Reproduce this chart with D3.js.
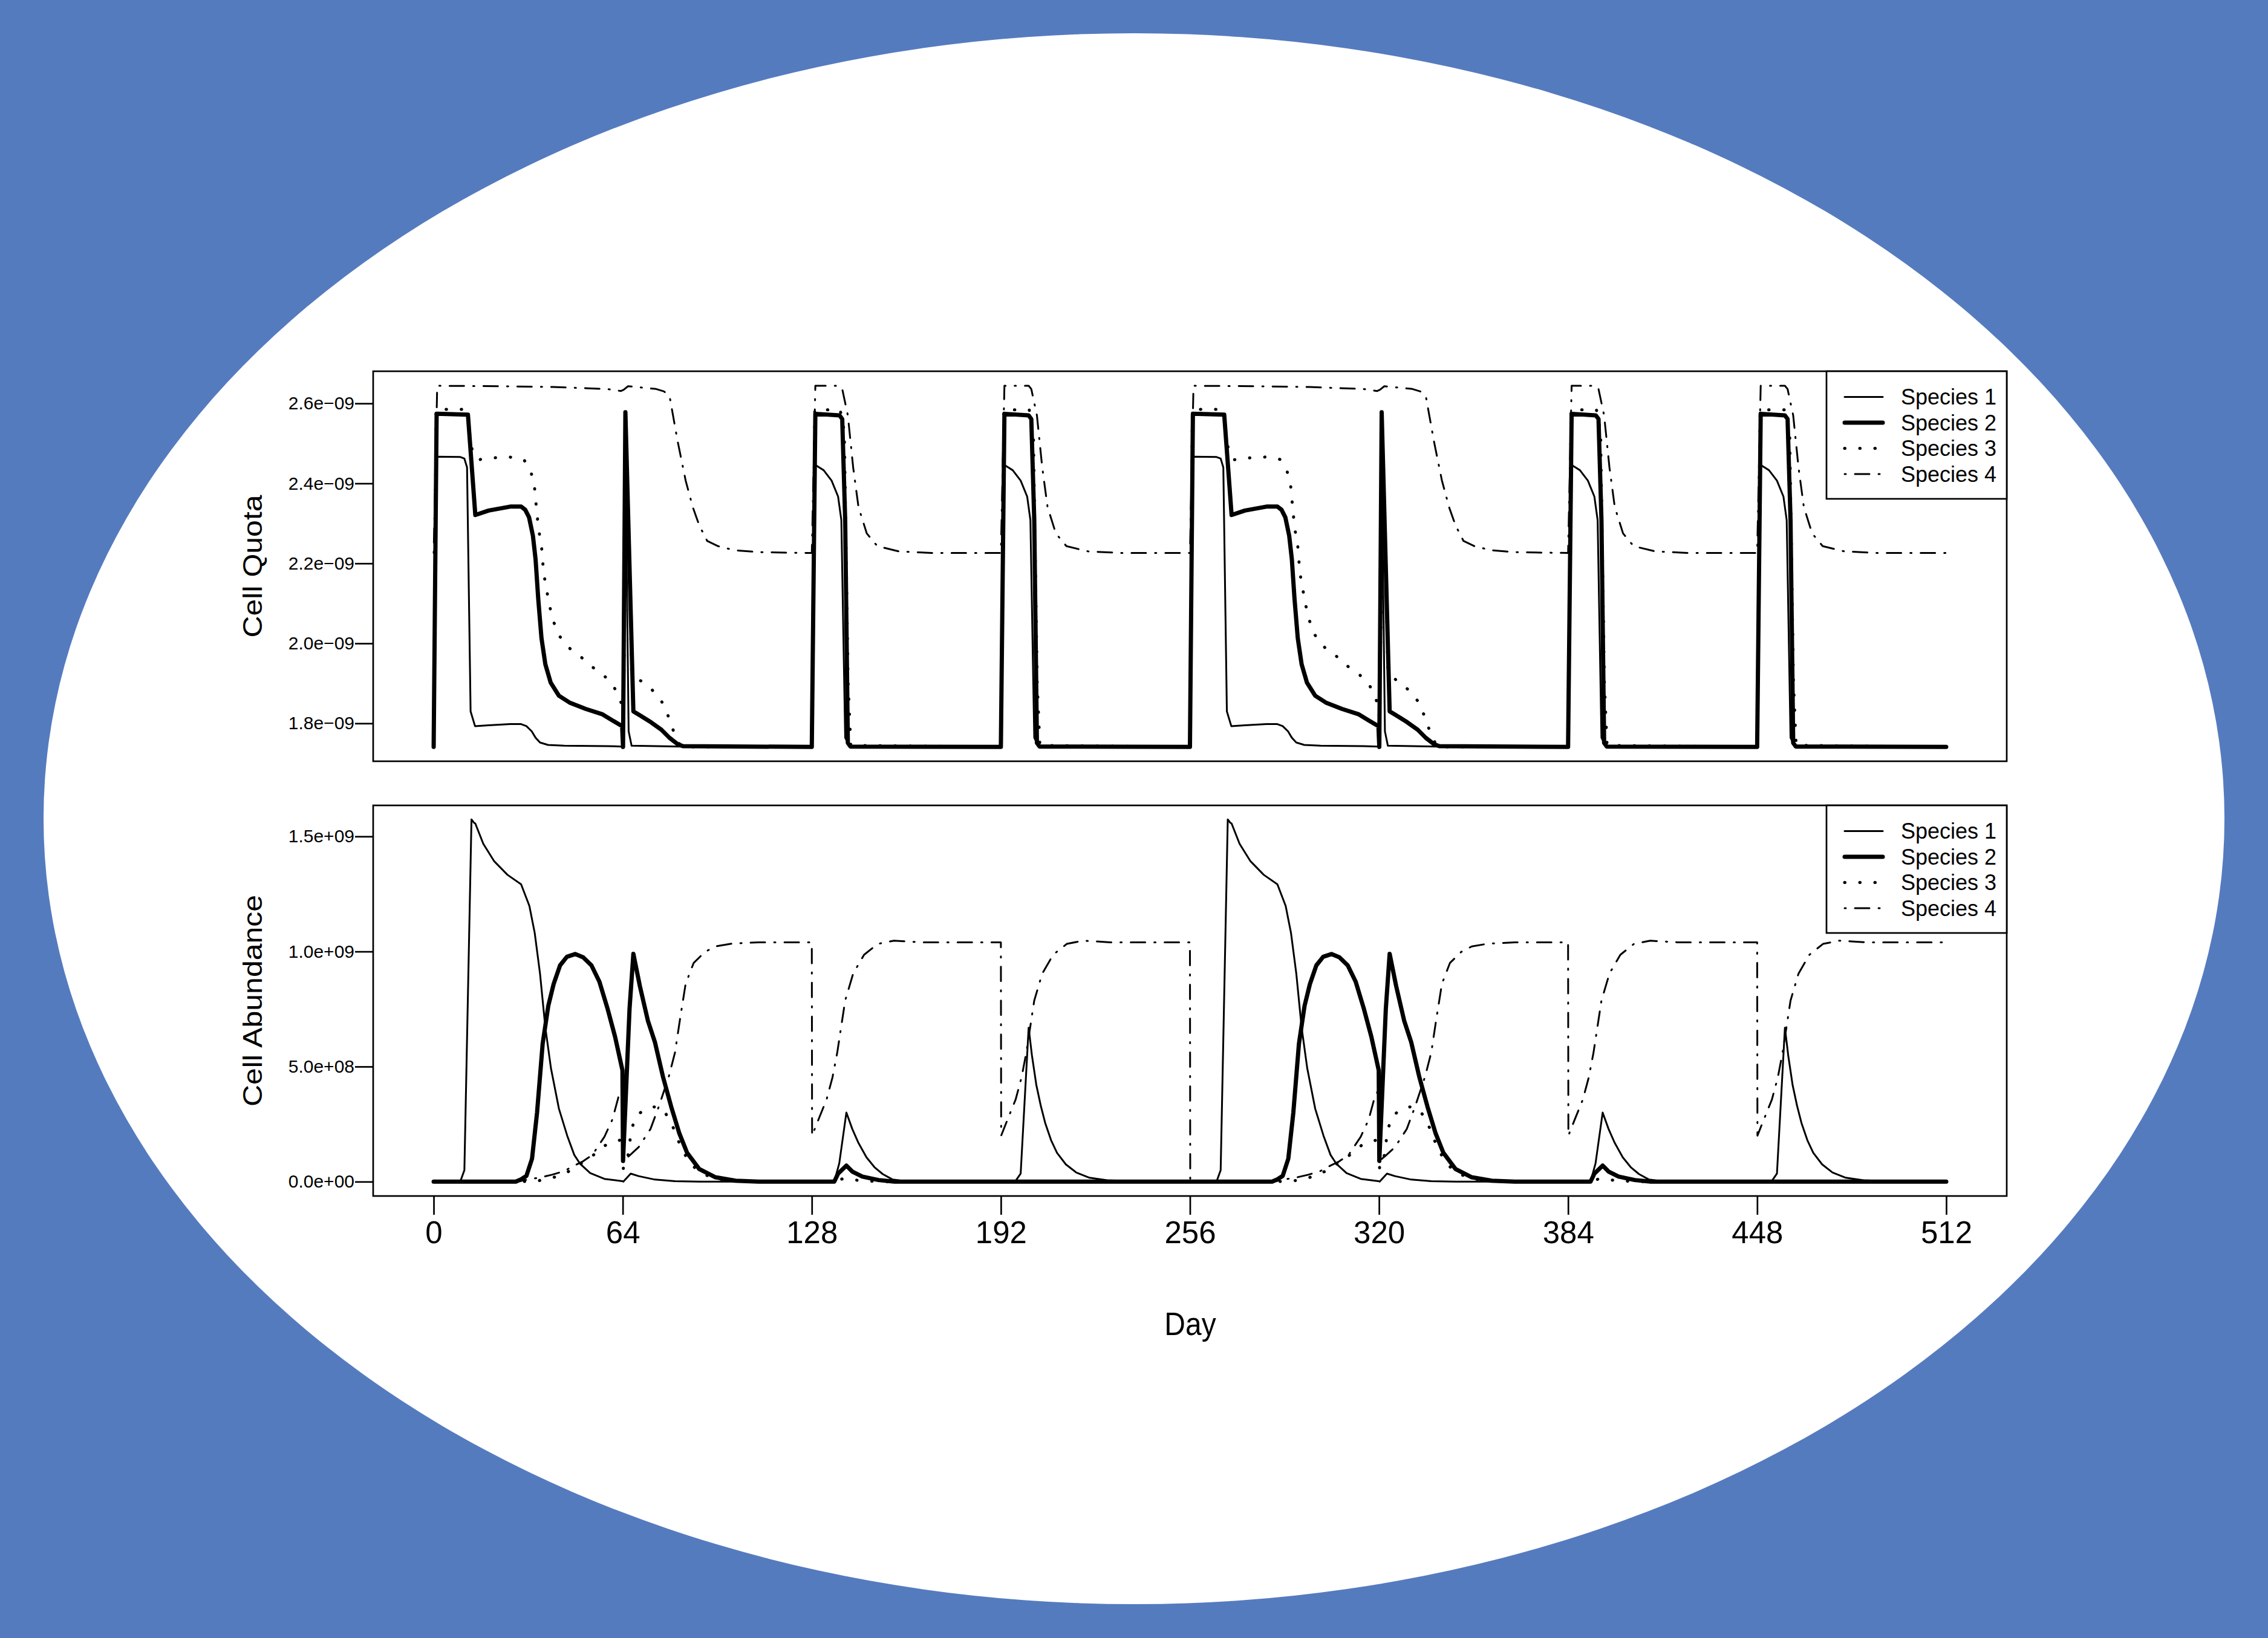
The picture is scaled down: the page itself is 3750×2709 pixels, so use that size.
<!DOCTYPE html>
<html><head><meta charset="utf-8">
<script src="https://cdn.jsdelivr.net/npm/d3@7"></script>
<style>html,body{margin:0;padding:0;background:#557bbf;}svg{display:block;}</style>
</head><body>
<svg id="chart" width="3750" height="2709"></svg>
<script>
// ---------- DATA (Cell Quota in units of 1e-9, Cell Abundance in units of 1e9) ----------
const speciesNames = ["Species 1", "Species 2", "Species 3", "Species 4"];
const xTicks = [0, 64, 128, 192, 256, 320, 384, 448, 512];
const quotaTicks = [1.8, 2.0, 2.2, 2.4, 2.6];
const quotaTickLabels = ["1.8e\u221209", "2.0e\u221209", "2.2e\u221209", "2.4e\u221209", "2.6e\u221209"];
const abundTicks = [0, 0.5, 1.0, 1.5];
const abundTickLabels = ["0.0e+00", "5.0e+08", "1.0e+09", "1.5e+09"];

const quotaSp1 = [[0,1.741],[0.6,2.467],[9,2.466],[10.4,2.462],[11.3,2.44],[12.5,1.83],[14,1.793],[18.6,1.795],[25.9,1.798],[29.6,1.798],[31.4,1.793],[33.2,1.78],[34.5,1.764],[36,1.752],[38.7,1.746],[44.2,1.744],[58.8,1.743],[63.8,1.742],[64.7,2.575],[66,1.78],[67,1.744],[84,1.742],
[128,1.741],[129.2,2.446],[132,2.433],[134.7,2.407],[136.9,2.367],[138,2.308],[139.3,1.764],[140.7,1.743],
[192,1.741],[193.2,2.446],[196,2.433],[198.7,2.407],[200.9,2.367],[202,2.308],[203.3,1.764],[204.7,1.743],
[256,1.741],[256.6,2.467],[265,2.466],[266.4,2.462],[267.3,2.44],[268.5,1.83],[270,1.793],[274.6,1.795],[281.9,1.798],[285.6,1.798],[287.4,1.793],[289.2,1.78],[290.5,1.764],[292,1.752],[294.7,1.746],[300.2,1.744],[314.8,1.743],[319.8,1.742],[320.7,2.575],[322,1.78],[323,1.744],[340,1.742],
[384,1.741],[385.2,2.446],[388,2.433],[390.7,2.407],[392.9,2.367],[394,2.308],[395.3,1.764],[396.7,1.743],
[448,1.741],[449.2,2.446],[452,2.433],[454.7,2.407],[456.9,2.367],[458,2.308],[459.3,1.764],[460.7,1.743],
[512,1.741]];

const quotaSp2 = [[0,1.741],[1,2.574],[11.6,2.572],[14.1,2.321],[18.6,2.332],[25.9,2.342],[29.6,2.342],[31,2.334],[32.3,2.315],[33.6,2.269],[34.5,2.21],[35.4,2.111],[36.5,2.013],[37.8,1.948],[39.6,1.902],[42.4,1.869],[46,1.852],[51.5,1.836],[57,1.823],[60.6,1.807],[63.8,1.793],[64.1,1.741],[64.9,2.578],[67.6,1.83],[69.8,1.82],[73.5,1.803],[77.1,1.784],[79.8,1.764],[82.6,1.748],[84.4,1.743],
[128,1.741],[129.2,2.574],[137.4,2.57],[138.3,2.561],[139.3,2.308],[140.2,1.751],[141.1,1.742],
[192,1.741],[193.2,2.574],[201.4,2.57],[202.3,2.561],[203.3,2.308],[204.2,1.751],[205.1,1.742],
[256,1.741],[257,2.574],[267.6,2.572],[270.1,2.321],[274.6,2.332],[281.9,2.342],[285.6,2.342],[287,2.334],[288.3,2.315],[289.6,2.269],[290.5,2.21],[291.4,2.111],[292.5,2.013],[293.8,1.948],[295.6,1.902],[298.4,1.869],[302,1.852],[307.5,1.836],[313,1.823],[316.6,1.807],[319.8,1.793],[320.1,1.741],[320.9,2.578],[323.6,1.83],[325.8,1.82],[329.5,1.803],[333.1,1.784],[335.8,1.764],[338.6,1.748],[340.4,1.743],
[384,1.741],[385.2,2.574],[393.4,2.57],[394.3,2.561],[395.3,2.308],[396.2,1.751],[397.1,1.742],
[448,1.741],[449.2,2.574],[457.4,2.57],[458.3,2.561],[459.3,2.308],[460.2,1.751],[461.1,1.742],
[512,1.741]];

const quotaSp3 = [[0,1.741],[0.8,2.585],[11.3,2.585],[12.2,2.525],[13,2.485],[14.9,2.459],[20.4,2.464],[25.6,2.466],[30.5,2.46],[32.9,2.43],[34.1,2.393],[35,2.321],[35.6,2.282],[36.5,2.243],[37.2,2.177],[38.3,2.131],[39.3,2.092],[40.5,2.056],[42.4,2.02],[45.6,1.99],[49.7,1.967],[53.7,1.941],[57.5,1.921],[61,1.892],[62.8,1.862],[63.9,1.845],[64.2,1.76],[65.3,2.5],[67,1.93],[69.8,1.908],[73.8,1.885],[77.1,1.856],[79.3,1.82],[81.7,1.77],[83.5,1.744],[86,1.741],
[128,1.741],[129,2.584],[137.6,2.584],[139,2.53],[140.3,1.9],[141.2,1.745],
[192,1.741],[193,2.584],[201.6,2.584],[203,2.53],[204.3,1.9],[205.2,1.745],
[256,1.741],[256.8,2.585],[267.3,2.585],[268.2,2.525],[269,2.485],[270.9,2.459],[276.4,2.464],[281.6,2.466],[286.5,2.46],[288.9,2.43],[290.1,2.393],[291,2.321],[291.6,2.282],[292.5,2.243],[293.2,2.177],[294.3,2.131],[295.3,2.092],[296.5,2.056],[298.4,2.02],[301.6,1.99],[305.7,1.967],[309.7,1.941],[313.5,1.921],[317,1.892],[318.8,1.862],[319.9,1.845],[320.2,1.76],[321.3,2.5],[323,1.93],[325.8,1.908],[329.8,1.885],[333.1,1.856],[335.3,1.82],[337.7,1.77],[339.5,1.744],[342,1.741],
[384,1.741],[385,2.584],[393.6,2.584],[395,2.53],[396.3,1.9],[397.2,1.745],
[448,1.741],[449,2.584],[457.6,2.584],[459,2.53],[460.3,1.9],[461.2,1.745],
[512,1.741]];

const quotaSp4 = [[0,2.226],[1.2,2.644],[22.2,2.643],[40.5,2.641],[58.8,2.636],[63.4,2.631],[64.3,2.634],[65.8,2.643],[75.3,2.636],[78,2.63],[79.9,2.616],[82.6,2.505],[85.3,2.407],[87.7,2.341],[89.9,2.295],[92.6,2.256],[96.3,2.243],[101.8,2.233],[110,2.228],[128,2.226],
[129.2,2.644],[137.4,2.644],[138.3,2.636],[140.2,2.57],[142,2.44],[143.8,2.341],[146.6,2.275],[150.2,2.243],[157.5,2.23],[168.5,2.226],[192,2.226],
[193.2,2.644],[201.4,2.644],[202.3,2.636],[204.2,2.57],[206,2.44],[207.8,2.341],[210.6,2.275],[214.2,2.243],[221.5,2.23],[232.5,2.226],[256,2.226],
[257.2,2.644],[278.2,2.643],[296.5,2.641],[314.8,2.636],[319.4,2.631],[320.3,2.634],[321.8,2.643],[331.3,2.636],[334,2.63],[335.9,2.616],[338.6,2.505],[341.3,2.407],[343.7,2.341],[345.9,2.295],[348.6,2.256],[352.3,2.243],[357.8,2.233],[366,2.228],[384,2.226],
[385.2,2.644],[393.4,2.644],[394.3,2.636],[396.2,2.57],[398,2.44],[399.8,2.341],[402.6,2.275],[406.2,2.243],[413.5,2.23],[424.5,2.226],[448,2.226],
[449.2,2.644],[457.4,2.644],[458.3,2.636],[460.2,2.57],[462,2.44],[463.8,2.341],[466.6,2.275],[470.2,2.243],[477.5,2.23],[488.5,2.226],[512,2.226]];

const abundSp1 = [[0,0],[9,0],[10.4,0.05],[12.8,1.574],[13.6,1.56],[14.1,1.556],[16.8,1.468],[20.5,1.392],[25,1.333],[29.6,1.292],[32.4,1.198],[34.2,1.081],[36,0.904],[37.8,0.67],[39.7,0.493],[42.4,0.317],[45.2,0.2],[47.6,0.116],[49.6,0.077],[53,0.037],[57.8,0.012],[63.9,0.002],[64.2,0],[66.7,0.035],[69.4,0.024],[74.9,0.009],[81.7,0.002],[90,0],
[135.6,0],[137.3,0.08],[139.7,0.3],[141.7,0.229],[143.8,0.168],[146.5,0.106],[149.2,0.063],[152,0.033],[155.4,0.009],[160.8,0],
[196.8,0],[198.7,0.035],[201.4,0.669],[202.5,0.55],[204,0.42],[205.5,0.33],[207,0.255],[209,0.18],[211,0.125],[214,0.075],[217.5,0.04],[222,0.017],[228,0.006],[240,0],
[265,0],[266.4,0.05],[268.8,1.574],[269.6,1.56],[270.1,1.556],[272.8,1.468],[276.5,1.392],[281,1.333],[285.6,1.292],[288.4,1.198],[290.2,1.081],[292,0.904],[293.8,0.67],[295.7,0.493],[298.4,0.317],[301.2,0.2],[303.6,0.116],[305.6,0.077],[309,0.037],[313.8,0.012],[319.9,0.002],[320.2,0],[322.7,0.035],[325.4,0.024],[330.9,0.009],[337.7,0.002],[346,0],
[391.6,0],[393.3,0.08],[395.7,0.3],[397.7,0.229],[399.8,0.168],[402.5,0.106],[405.2,0.063],[408,0.033],[411.4,0.009],[416.8,0],
[452.8,0],[454.7,0.035],[457.4,0.669],[458.5,0.55],[460,0.42],[461.5,0.33],[463,0.255],[465,0.18],[467,0.125],[470,0.075],[473.5,0.04],[478,0.017],[484,0.006],[496,0],[512,0]];

const abundSp2 = [[0,0],[27.8,0],[29.6,0.01],[31.4,0.025],[33.3,0.1],[35,0.3],[36.9,0.6],[38.8,0.764],[40.6,0.858],[42.8,0.94],[45.1,0.977],[47.9,0.989],[50.6,0.975],[53.4,0.94],[56.1,0.869],[58.9,0.75],[61.4,0.63],[63.9,0.484],[64.1,0.09],[66.3,0.75],[67.6,0.99],[69.8,0.85],[72.5,0.7],[74.9,0.606],[77.6,0.457],[80.4,0.326],[83.1,0.212],[85.8,0.125],[89.9,0.055],[95.4,0.019],[102.2,0.004],[110,0],
[135.6,0],[136.9,0.035],[139.7,0.07],[141.7,0.044],[145.1,0.022],[150.6,0.007],[156,0],
[283.8,0],[285.6,0.01],[287.4,0.025],[289.3,0.1],[291,0.3],[292.9,0.6],[294.8,0.764],[296.6,0.858],[298.8,0.94],[301.1,0.977],[303.9,0.989],[306.6,0.975],[309.4,0.94],[312.1,0.869],[314.9,0.75],[317.4,0.63],[319.9,0.484],[320.1,0.09],[322.3,0.75],[323.6,0.99],[325.8,0.85],[328.5,0.7],[330.9,0.606],[333.6,0.457],[336.4,0.326],[339.1,0.212],[341.8,0.125],[345.9,0.055],[351.4,0.019],[358.2,0.004],[366,0],
[391.6,0],[392.9,0.035],[395.7,0.07],[397.7,0.044],[401.1,0.022],[406.6,0.007],[412,0],
[512,0]];

const abundSp3 = [[0,0],[28,0],[30.8,0.001],[35.8,0.005],[41,0.02],[45.8,0.045],[50,0.08],[54,0.115],[58,0.157],[62.9,0.18],[63.8,0.178],[64.2,0.057],[65.3,0.074],[66.1,0.14],[66.7,0.205],[67.9,0.269],[70,0.3],[71.6,0.314],[74,0.325],[76.2,0.324],[78,0.305],[79.5,0.278],[81.7,0.218],[83.4,0.158],[85.9,0.098],[88,0.065],[91,0.035],[95,0.014],[100,0.004],[106,0],
[136,0],[138.5,0.013],[141,0.01],[144.8,0.004],[150,0.001],[155,0],
[284,0],[286.8,0.001],[291.8,0.005],[297,0.02],[301.8,0.045],[306,0.08],[310,0.115],[314,0.157],[318.9,0.18],[319.8,0.178],[320.2,0.057],[321.3,0.074],[322.1,0.14],[322.7,0.205],[323.9,0.269],[326,0.3],[327.6,0.314],[330,0.325],[332.2,0.324],[334,0.305],[335.5,0.278],[337.7,0.218],[339.4,0.158],[341.9,0.098],[344,0.065],[347,0.035],[351,0.014],[356,0.004],[362,0],
[392,0],[394.5,0.013],[397,0.01],[400.8,0.004],[406,0.001],[411,0],[512,0]];

const abundSp4 = [[0,0],[27,0],[29.5,0.003],[33,0.012],[36,0.018],[40,0.03],[44,0.045],[47.6,0.07],[50.5,0.088],[53.7,0.116],[57.8,0.195],[60.5,0.27],[62.6,0.37],[63.9,0.4],[64.1,0.09],[66,0.11],[69.4,0.15],[73.4,0.229],[76.2,0.326],[79.6,0.457],[81.7,0.562],[83.4,0.707],[85.3,0.86],[88,0.95],[91.8,0.998],[95.4,1.022],[100.9,1.034],[110,1.04],[128,1.04],
[128.1,0.2],[130.1,0.265],[133,0.357],[135,0.453],[136.6,0.56],[139.3,0.787],[142,0.904],[145.7,0.986],[150.3,1.033],[155.8,1.047],[165,1.04],[192,1.04],
[192.1,0.2],[194.1,0.265],[197,0.357],[199,0.453],[200.6,0.56],[203.3,0.787],[206,0.904],[209.7,0.986],[214.3,1.033],[219.8,1.047],[229,1.04],[256,1.04],
[256.1,0],[283,0],[285.5,0.003],[289,0.012],[292,0.018],[296,0.03],[300,0.045],[303.6,0.07],[306.5,0.088],[309.7,0.116],[313.8,0.195],[316.5,0.27],[318.6,0.37],[319.9,0.4],[320.1,0.09],[322,0.11],[325.4,0.15],[329.4,0.229],[332.2,0.326],[335.6,0.457],[337.7,0.562],[339.4,0.707],[341.3,0.86],[344,0.95],[347.8,0.998],[351.4,1.022],[356.9,1.034],[366,1.04],[384,1.04],
[384.1,0.2],[386.1,0.265],[389,0.357],[391,0.453],[392.6,0.56],[395.3,0.787],[398,0.904],[401.7,0.986],[406.3,1.033],[411.8,1.047],[421,1.04],[448,1.04],
[448.1,0.2],[450.1,0.265],[453,0.357],[455,0.453],[456.6,0.56],[459.3,0.787],[462,0.904],[465.7,0.986],[470.3,1.033],[475.8,1.047],[485,1.04],[512,1.04]];

// ---------- LAYOUT ----------
const W = 3750, H = 2709;
const FONT = "'Liberation Sans', Arial, Helvetica, sans-serif";
const left = 617, right = 3318;
const topPanel = {y0: 614, y1: 1259};
const botPanel = {y0: 1332, y1: 1978};

const styles = [
  {w: 3, dash: null},
  {w: 7, dash: null},
  {w: 5, dash: "0.5,24.5"},
  {w: 3, dash: "2,15,24,15"}
];

const svg = d3.select("#chart");
svg.append("rect").attr("width", W).attr("height", H).attr("fill", "#557bbf");
svg.append("ellipse").attr("cx", 1875).attr("cy", 1354).attr("rx", 1803).attr("ry", 1299).attr("fill", "#ffffff");

const x = d3.scaleLinear().domain([-20.48, 532.48]).range([left, right]);
const yQ = d3.scaleLinear().domain([1.7052, 2.6804]).range([topPanel.y1, topPanel.y0]);
const yA = d3.scaleLinear().domain([-0.0623, 1.6348]).range([botPanel.y1, botPanel.y0]);

function drawPanel(panel, y, series, ticks, labels, title) {
  const g = svg.append("g");
  const line = d3.line().x(d => x(d[0])).y(d => y(d[1]));
  series.forEach((s, i) => {
    const p = g.append("path").datum(s).attr("d", line)
      .attr("fill", "none").attr("stroke", "#000")
      .attr("stroke-width", styles[i].w)
      .attr("stroke-linejoin", "round").attr("stroke-linecap", "round");
    if (styles[i].dash) p.attr("stroke-dasharray", styles[i].dash);
  });
  // box
  g.append("rect").attr("x", left).attr("y", panel.y0)
    .attr("width", right - left).attr("height", panel.y1 - panel.y0)
    .attr("fill", "none").attr("stroke", "#000").attr("stroke-width", 2.7);
  // y axis
  const ax = d3.axisLeft(y).tickValues(ticks).tickFormat((d, i) => labels[i]).tickSize(30).tickPadding(1);
  const ag = g.append("g").attr("transform", `translate(${left},0)`).call(ax);
  ag.select(".domain").remove();
  ag.selectAll(".tick line").attr("stroke", "#000").attr("stroke-width", 2.7);
  ag.selectAll(".tick text").attr("font-family", FONT).attr("font-size", 30).attr("fill", "#000");
  // y title
  g.append("text").attr("transform", `translate(433,${(panel.y0 + panel.y1) / 2}) rotate(-90) scale(1,0.9)`)
    .attr("text-anchor", "middle").attr("font-family", FONT).attr("font-size", 50).attr("fill", "#000")
    .text(title);
  // legend
  const lx0 = 3020;
  g.append("rect").attr("x", lx0).attr("y", panel.y0).attr("width", right - lx0).attr("height", 211)
    .attr("fill", "#fff").attr("stroke", "#000").attr("stroke-width", 2.7);
  speciesNames.forEach((name, i) => {
    const cy = panel.y0 + 42.5 * (i + 1);
    const l = g.append("line").attr("x1", 3050).attr("x2", 3113).attr("y1", cy).attr("y2", cy)
      .attr("stroke", "#000").attr("stroke-width", styles[i].w).attr("stroke-linecap", "round");
    if (styles[i].dash) l.attr("stroke-dasharray", styles[i].dash);
    g.append("text").attr("x", 3143).attr("y", cy).attr("dy", "0.36em")
      .attr("font-family", FONT).attr("font-size", 36).attr("fill", "#000").text(name);
  });
}

drawPanel(topPanel, yQ, [quotaSp1, quotaSp2, quotaSp3, quotaSp4], quotaTicks, quotaTickLabels, "Cell Quota");
drawPanel(botPanel, yA, [abundSp1, abundSp2, abundSp3, abundSp4], abundTicks, abundTickLabels, "Cell Abundance");

// x axis on the bottom panel
const xa = d3.axisBottom(x).tickValues(xTicks).tickFormat(d3.format("d")).tickSize(31).tickPadding(11);
const xg = svg.append("g").attr("transform", `translate(0,${botPanel.y1})`).call(xa);
xg.select(".domain").remove();
xg.selectAll(".tick line").attr("stroke", "#000").attr("stroke-width", 2.7);
xg.selectAll(".tick text").attr("font-family", FONT).attr("font-size", 51).attr("fill", "#000");

svg.append("text").attr("transform", "translate(1968,2208) scale(1,1.1)")
  .attr("text-anchor", "middle").attr("font-family", FONT).attr("font-size", 48).attr("fill", "#000")
  .text("Day");
</script>
</body></html>
